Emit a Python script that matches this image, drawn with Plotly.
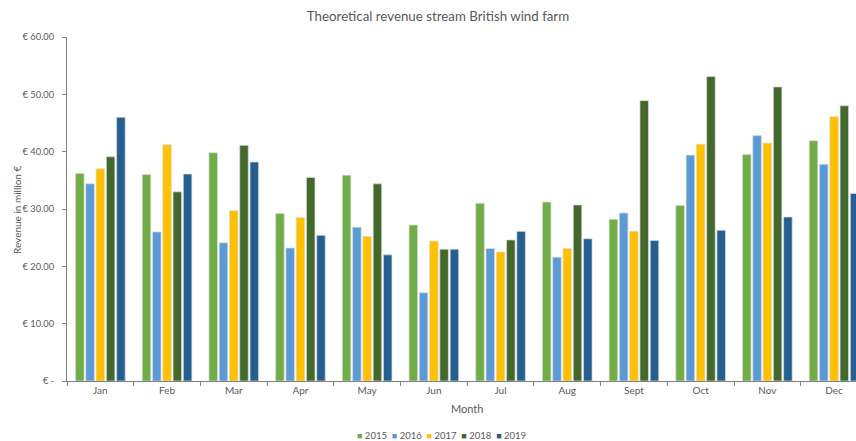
import plotly.graph_objects as go

months = ["Jan", "Feb", "Mar", "Apr", "May", "Jun", "Jul", "Aug", "Sept", "Oct", "Nov", "Dec"]
years = ["2015", "2016", "2017", "2018", "2019"]

v2015 = [36.2, 36.0, 39.8, 29.2, 35.9, 27.2, 31.0, 31.2, 28.2, 30.6, 39.5, 41.9]
v2016 = [34.4, 26.0, 24.1, 23.2, 26.8, 15.4, 23.1, 21.6, 29.3, 39.4, 42.8, 37.8]
v2017 = [37.0, 41.2, 29.7, 28.5, 25.2, 24.4, 22.5, 23.1, 26.1, 41.3, 41.5, 46.1]
v2018 = [39.1, 33.0, 41.1, 35.5, 34.4, 23.0, 24.6, 30.7, 48.9, 53.1, 51.3, 48.0]
v2019 = [46.0, 36.1, 38.2, 25.4, 22.0, 23.0, 26.1, 24.8, 24.5, 26.3, 28.6, 32.7]

series = [v2015, v2016, v2017, v2018, v2019]
colors = ["#70AD47", "#5B9BD5", "#FFC000", "#43682B", "#255E91"]

ytick_vals = [0, 10, 20, 30, 40, 50, 60]
ytick_text = ["€ -", "€ 10.00", "€ 20.00", "€ 30.00", "€ 40.00", "€ 50.00", "€ 60.00"]

FONT = "Lato, Carlito, 'Open Sans', sans-serif"
GREY = "#595959"

fig = go.Figure()
for name, vals, col in zip(years, series, colors):
    fig.add_trace(go.Bar(
        x=months, y=vals, name=name, showlegend=False,
        marker=dict(color=col, line=dict(color="rgba(217,217,217,0.9)", width=0.8)),
    ))

W, H = 856, 441
L, T, B = 67, 37, 60
plot_w = W - L
cat_w = 66.7
x_max = -0.5 + plot_w / cat_w

legend_html = "&nbsp;&nbsp;".join(
    f"<span style='color:{c};font-size:9px'>■</span> {y}" for y, c in zip(years, colors)
)

fig.update_layout(
    width=W, height=H,
    margin=dict(l=L, r=0, t=T, b=B, pad=0),
    paper_bgcolor="white", plot_bgcolor="white",
    barmode="group", bargap=0.23, bargroupgap=0.17,
    font=dict(family=FONT, color=GREY, size=10),
    title=dict(text="Theoretical revenue stream British wind farm",
               x=438 / W, xanchor="center", xref="container",
               y=1 - 16 / H, yanchor="middle", yref="container",
               font=dict(size=13.3, color=GREY, family=FONT)),
    showlegend=False,
    xaxis=dict(range=[-0.5, x_max], showgrid=False, showline=True,
               linecolor="#7F7F7F", linewidth=1, ticks="outside",
               tickson="boundaries", ticklen=4, tickcolor="#7F7F7F",
               tickfont=dict(size=10, color=GREY), zeroline=False),
    yaxis=dict(range=[0, 60], showgrid=False, showline=True,
               linecolor="#7F7F7F", linewidth=1, ticks="outside", ticklen=4,
               tickcolor="#7F7F7F", tickvals=ytick_vals, ticktext=ytick_text,
               tickfont=dict(size=9.3, color=GREY), zeroline=False,
               ticklabelstandoff=6),
    annotations=[
        dict(text="Month", xref="paper", yref="paper",
             x=(467 - L) / plot_w, y=(381 - 408) / (381 - T),
             xanchor="center", yanchor="middle", showarrow=False,
             font=dict(size=11, color=GREY)),
        dict(text="Revenue in million €", xref="paper", yref="paper",
             x=(17 - L) / plot_w, y=0.5, textangle=-90,
             xanchor="center", yanchor="middle", showarrow=False,
             font=dict(size=10, color=GREY)),
        dict(text=legend_html, xref="paper", yref="paper",
             x=(441 - L) / plot_w, y=(381 - 435) / (381 - T),
             xanchor="center", yanchor="middle", showarrow=False,
             font=dict(size=9.5, color=GREY)),
    ],
)

fig.write_html("out.html")
